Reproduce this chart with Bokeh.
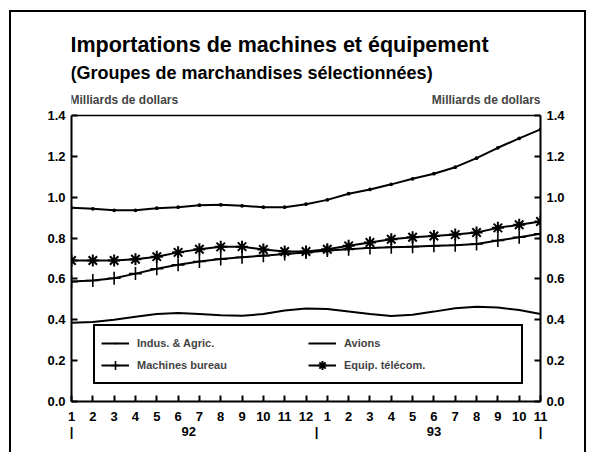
from bokeh.plotting import figure
from bokeh.models import Range1d, LinearAxis, FixedTicker, Label, Legend, LegendItem, Span
from bokeh.embed import file_html
from bokeh.resources import INLINE

# ---- data ----
months = list(range(1, 24))
month_labels = ["1", "2", "3", "4", "5", "6", "7", "8", "9", "10", "11", "12",
                "1", "2", "3", "4", "5", "6", "7", "8", "9", "10", "11"]
year_ticks = [1, 6.5, 12.5, 18, 23]
year_labels = ["|", "92", "|", "93", "|"]
y_ticks = [0.0, 0.2, 0.4, 0.6, 0.8, 1.0, 1.2, 1.4]
y_labels = ["0.0", "0.2", "0.4", "0.6", "0.8", "1.0", "1.2", "1.4"]

indus = [0.948, 0.943, 0.936, 0.936, 0.946, 0.951, 0.961, 0.963, 0.958, 0.951, 0.951, 0.966,
         0.987, 1.017, 1.038, 1.063, 1.090, 1.115, 1.147, 1.191, 1.242, 1.288, 1.332]
machines = [0.587, 0.592, 0.603, 0.626, 0.650, 0.669, 0.685, 0.697, 0.706, 0.714, 0.722, 0.729,
            0.739, 0.745, 0.752, 0.755, 0.758, 0.762, 0.765, 0.771, 0.788, 0.804, 0.821]
equip = [0.690, 0.690, 0.690, 0.696, 0.709, 0.730, 0.745, 0.757, 0.758, 0.744, 0.734, 0.734,
         0.745, 0.762, 0.778, 0.794, 0.804, 0.810, 0.817, 0.827, 0.850, 0.865, 0.881]
avions = [0.386, 0.389, 0.400, 0.415, 0.428, 0.433, 0.428, 0.422, 0.420, 0.428, 0.445, 0.455,
          0.453, 0.441, 0.428, 0.418, 0.425, 0.440, 0.456, 0.464, 0.460, 0.448, 0.428]

FONT = "Liberation Sans"

# plot frame (incl. title zone) spans page px 14..401; the 0..1.4 box spans 115..401
Y_TOP = y_ticks[-1] * (401 - 14) / (401 - 115)

p = figure(width=577, height=442, x_range=Range1d(months[0], months[-1]),
           y_range=Range1d(0, Y_TOP),
           output_backend="svg", toolbar_location=None,
           x_axis_location=None, y_axis_location=None,
           min_border_left=62, min_border_right=46, min_border_top=4, min_border_bottom=51)
p.styles = {"margin-left": "9px", "margin-top": "10px",
            "box-shadow": "inset 2px 2px 0 0 black, inset -2px 0 0 0 black"}
p.xgrid.visible = False
p.ygrid.visible = False
p.outline_line_color = None
p.background_fill_alpha = 0
p.border_fill_alpha = 0


def style_axis(ax, size="13px"):
    ax.axis_line_width = 2
    ax.axis_line_color = "black"
    ax.major_tick_in = 6
    ax.major_tick_out = 0
    ax.major_tick_line_width = 2
    ax.minor_tick_line_color = None
    ax.major_label_text_font = FONT
    ax.major_label_text_font_size = size
    ax.major_label_text_font_style = "bold"
    ax.major_label_text_color = "black"


xaxis = LinearAxis(ticker=FixedTicker(ticks=months),
                   major_label_overrides={m: l for m, l in zip(months, month_labels)})
style_axis(xaxis)
xaxis.major_label_standoff = 10
p.add_layout(xaxis, "below")

yearaxis = LinearAxis(ticker=FixedTicker(ticks=year_ticks),
                      major_label_overrides={t: l for t, l in zip(year_ticks, year_labels)})
style_axis(yearaxis)
yearaxis.axis_line_color = None
yearaxis.major_tick_line_color = None
yearaxis.major_label_standoff = 0
p.add_layout(yearaxis, "below")

for side in ("left", "right"):
    ax = LinearAxis(ticker=FixedTicker(ticks=y_ticks), bounds=(y_ticks[0], y_ticks[-1]),
                    major_label_overrides={t: l for t, l in zip(y_ticks, y_labels)})
    style_axis(ax)
    ax.major_label_standoff = 6
    p.add_layout(ax, side)

# top line of the plot box
p.add_layout(Span(location=y_ticks[-1], dimension="width", line_color="black", line_width=1.5))

r1 = p.line(months, indus, line_width=2, color="black")
m1 = p.scatter(months, indus, marker="dot", size=15, line_width=1, color="black")
r2 = p.line(months, avions, line_width=2, color="black")
r3 = p.line(months, machines, line_width=2, color="black")
m3 = p.scatter(months, machines, marker="cross", size=13, line_width=1.6, color="black")
r4 = p.line(months, equip, line_width=2, color="black")
m4 = p.scatter(months, equip, marker="asterisk", size=12, line_width=2, color="black")

legend = Legend(items=[
    LegendItem(label="Indus. & Agric.", renderers=[r1, m1]),
    LegendItem(label="Machines bureau", renderers=[r3, m3]),
    LegendItem(label="Avions", renderers=[r2]),
    LegendItem(label="Equip. télécom.", renderers=[r4, m4]),
], location=(22, 17), orientation="vertical", nrows=2)
legend.border_line_color = "black"
legend.border_line_alpha = 1
legend.border_line_width = 2
legend.padding = 6
legend.spacing = 0
legend.margin = 0
legend.glyph_width = 28
legend.glyph_height = 22
legend.label_standoff = 8
legend.label_width = 171
legend.label_height = 22
legend.label_text_font = FONT
legend.label_text_font_size = "11px"
legend.label_text_font_style = "bold"
legend.background_fill_color = "white"
legend.background_fill_alpha = 1
p.add_layout(legend)

title1 = Label(x=months[0], y=y_ticks[-1], x_offset=-1, y_offset=71,
               text="Importations de machines et équipement",
               text_font=FONT, text_font_size="21.5px", text_font_style="bold",
               text_baseline="alphabetic", text_align="left", text_color="black")
title2 = Label(x=months[0], y=y_ticks[-1], x_offset=-1, y_offset=43,
               text="(Groupes de marchandises sélectionnées)",
               text_font=FONT, text_font_size="18px", text_font_style="bold",
               text_baseline="alphabetic", text_align="left", text_color="black")
unit_l = Label(x=months[0], y=y_ticks[-1], x_offset=-2, y_offset=16,
               text="Milliards de dollars", text_font=FONT, text_font_size="12px",
               text_font_style="bold", text_baseline="alphabetic", text_align="left")
unit_r = Label(x=months[-1], y=y_ticks[-1], x_offset=0, y_offset=16,
               text="Milliards de dollars", text_font=FONT, text_font_size="12px",
               text_font_style="bold", text_baseline="alphabetic", text_align="right")
for lab in (title1, title2, unit_l, unit_r):
    p.add_layout(lab)

open("out.html", "w").write(file_html(p, INLINE))
